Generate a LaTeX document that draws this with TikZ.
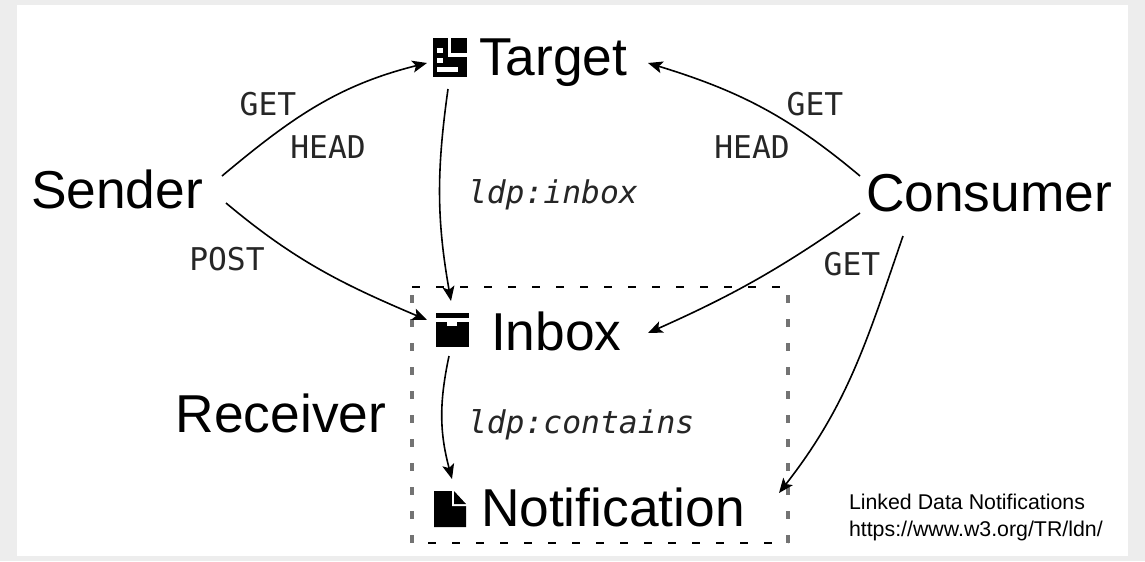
\documentclass[tikz,border=0pt]{standalone}
\usepackage{fontspec}
\setmainfont{Liberation Sans}
\setmonofont{DejaVu Sans Mono}
\usetikzlibrary{arrows.meta}

\definecolor{paper}{gray}{0.93}

\begin{document}
\begin{tikzpicture}[
		x=0.75pt, y=-0.75pt,
		every node/.style = {inner sep=0pt, outer sep=0pt, text=black},
		resource/.style = {font=\fontsize{40}{42}\selectfont, anchor=base west},
		role/.style = {font=\fontsize{40}{42}\selectfont, anchor=base},
		verb/.style = {font=\ttfamily\fontsize{23.5}{26}\selectfont, anchor=base, text=black!85},
		prop/.style = {font=\ttfamily\itshape\fontsize{23.5}{26}\selectfont, anchor=base west, text=black!85},
		link/.style = {draw, line width=1.2pt, -{Stealth[length=11pt,width=9pt,inset=2.5pt]}},
		boxh/.style = {draw, line width=1.1pt, dash pattern=on 6pt off 12pt},
		boxv/.style = {draw, black!55, line width=3pt, dash pattern=on 6pt off 12pt, dash phase=12pt}]
		\useasboundingbox (0,0) rectangle (1145,561);
		\fill[paper] (0,0) rectangle (1145,561);
		\fill[white] (17,5) rectangle (1128,556);

		% receiver box
		\draw[boxh] (412,287) -- (788,287);
		\draw[boxh, dash phase=6pt] (412,543) -- (788,543);
		\draw[boxv] (412,287) -- (412,543);
		\draw[boxv] (788,287) -- (788,543);

		% nodes
		\node[resource] (target) at (479,75) {Target};
		\node[resource] (inbox) at (491,350) {Inbox};
		\node[resource] (notification) at (481,526) {Notification};
		\node[role] (sender) at (117,208) {Sender};
		\node[role] (consumer) at (989,211) {Consumer};
		\node[role] (receiver) at (281,432) {Receiver};
		\node[verb] (getsender) at (268,115) {GET};
		\node[verb] (headsender) at (328,158) {HEAD};
		\node[verb] (post) at (227,270) {POST};
		\node[verb] (getconsumer) at (815,115) {GET};
		\node[verb] (headconsumer) at (752,158) {HEAD};
		\node[verb] (getinbox) at (852,275) {GET};
		\node[prop] (inboxprop) at (468,203) {ldp:inbox};
		\node[prop] (containsprop) at (468,433) {ldp:contains};
		\node[font=\fontsize{16}{20}\selectfont, align=left, anchor=base west] (credit) at (849,536)
			{Linked Data Notifications\\https://www.w3.org/TR/ldn/};

		% icons
		\fill (433,38) rectangle (467,77);
		\fill[white] (448,38) rectangle (451,57);
		\fill[white] (448,53) rectangle (467,57);
		\fill[white] (437,48) rectangle (443,53);
		\fill[white] (437,58) rectangle (443,63);
		\fill[white] (437,67) rectangle (458,72);
		\fill (436,313) rectangle (469,347);
		\fill[white] (436,318) rectangle (469,322);
		\fill[white] (447,322) rectangle (457,326);
		\fill (434,491) -- (452,491) -- (466,506) -- (466,527) -- (434,527) -- cycle;
		\fill[white] (452,491) -- (454,491) -- (466,504) -- (466,506) -- (452,506) -- cycle;
		\fill (454,491) -- (466,504) -- (454,504) -- cycle;

		% links
		\draw[link] ([shift={(105,-32)}]sender.base) to[out=40, in=194] ([shift={(-52,-12)}]target.base west);
		\draw[link] ([shift={(109,-5)}]sender.base) to[out=-40, in=157] ([shift={(-64,-30)}]inbox.base west);
		\draw[link] ([shift={(-31,14)}]target.base west) to[out=-98, in=100] ([shift={(-40,-49)}]inbox.base west);
		\draw[link] ([shift={(-129,-35)}]consumer.base) to[out=140, in=-17] ([shift={(169,-12)}]target.base west);
		\draw[link] ([shift={(-129,2)}]consumer.base) to[out=-145, in=24] ([shift={(157,-17)}]inbox.base west);
		\draw[link] ([shift={(-86,25)}]consumer.base) to[out=-109, in=52] ([shift={(298,-33)}]notification.base west);
		\draw[link] ([shift={(-42,6)}]inbox.base west) to[out=-102, in=105] ([shift={(-29,-47)}]notification.base west);
		\end{tikzpicture}
\end{document}
